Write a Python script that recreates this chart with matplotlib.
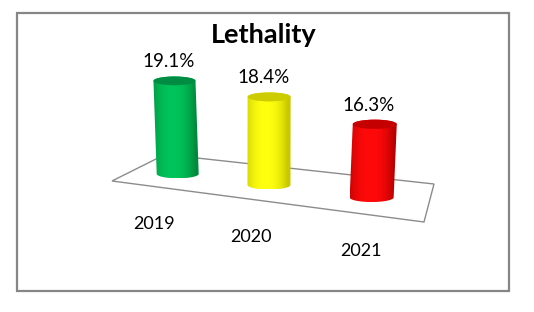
import numpy as np
import matplotlib.pyplot as plt
from matplotlib.patches import Polygon, Ellipse, Rectangle

# data
years = ["2019", "2020", "2021"]
lethality = [19.1, 18.4, 16.3]
value_labels = ["19.1%", "18.4%", "16.3%"]

# colours: (side edge, side centre, top cap)
bar_colors = [
    ("#008a3c", "#00c45a", "#008c42"),
    ("#c8c800", "#ffff10", "#cccc00"),
    ("#b80000", "#ff0a0a", "#c40000"),
]

plt.rcParams['font.family'] = ['Lato', 'DejaVu Sans']

# layout in pixels of the 534x312 picture
W, H = 534, 312
floor = np.array([[112, 181], [424, 222], [434, 184], [165, 154.5]])  # front-left, front-right, back-right, back-left
value_floor = 6.0      # value at the floor
px_per_pct = 7.1       # vertical pixels per percentage point
bar_w = 42
ell_ratio = 0.21
vanish_x, vanish_d = 265, 2500


def homography(dst):
    src = [(0, 0), (1, 0), (1, 1), (0, 1)]
    A, b = [], []
    for (u, v), (x, y) in zip(src, dst):
        A.append([u, v, 1, 0, 0, 0, -u * x, -v * x]); b.append(x)
        A.append([0, 0, 0, u, v, 1, -u * y, -v * y]); b.append(y)
    h = np.linalg.solve(np.array(A, float), np.array(b, float))
    return np.append(h, 1).reshape(3, 3)


Hm = homography(floor)


def proj(u, v):
    p = Hm @ np.array([u, v, 1.0])
    return p[0] / p[2], p[1] / p[2]


def hex_rgb(c):
    c = c.lstrip('#')
    return np.array([int(c[i:i + 2], 16) for i in (0, 2, 4)]) / 255.0


def cylinder(ax, xb, yb, h, w, cols, z):
    a = w / 2
    b = a * ell_ratio
    tilt = (xb - vanish_x) * h / vanish_d
    xt, yt = xb + tilt, yb - h
    th = np.linspace(0, np.pi, 80)
    bottom = np.column_stack([xb + a * np.cos(th), yb + b * np.sin(th)])
    top = np.column_stack([xt - a * np.cos(th), yt - b * np.sin(th)])
    body = Polygon(np.vstack([bottom, top]), closed=True, facecolor='none',
                   edgecolor='none', zorder=z)
    ax.add_patch(body)
    edge, centre, cap = cols
    t = np.linspace(-1, 1, 200)
    f = np.clip(1 - np.abs(t + 0.15) ** 2.2, 0, 1)
    grad = hex_rgb(edge)[None, :] * (1 - f[:, None]) + hex_rgb(centre)[None, :] * f[:, None]
    x0 = min(xb, xt) - a
    x1 = max(xb, xt) + a
    im = ax.imshow(grad[None, :, :], extent=(x0, x1, yb + b, yt - b),
                   aspect='auto', interpolation='bilinear', zorder=z)
    im.set_clip_path(body)
    ax.add_patch(Ellipse((xt, yt), w, 2 * b, facecolor=cap, edgecolor='none', zorder=z + 0.1))
    return xt, yt


fig = plt.figure(figsize=(W / 100, H / 100), dpi=100)
ax = fig.add_axes([0, 0, 1, 1])
ax.axis('off')

# outer border
ax.add_patch(Rectangle((16.5, 12.5), 492, 278, fill=False, edgecolor='#868686', lw=1.6, zorder=1))

# floor
ax.add_patch(Polygon(floor, closed=True, fill=False, edgecolor='#8c8c8c', lw=1.0, zorder=2))

n = len(years)
for i, (yr, val, lab, cols) in enumerate(zip(years, lethality, value_labels, bar_colors)):
    u = (i + 0.5) / n
    xb, yb = proj(u - 0.002, 0.42)
    h = (val - value_floor) * px_per_pct
    xt, yt = cylinder(ax, xb, yb, h, bar_w + i, cols, 3 + i)
    ax.text(xt - 6, yt - 19, lab, ha='center', va='center', fontsize=13.5, color='#000000', zorder=10)
    fx, fy = proj(u, 0.0)
    ax.text(fx - 2, fy + 37, yr, ha='center', va='center', fontsize=13, color='#000000', zorder=10)

ax.text(264, 35, "Lethality", ha='center', va='center', fontsize=19.5, fontweight='bold', zorder=10)

ax.set_xlim(0, W)
ax.set_ylim(H, 0)
fig.savefig("out.png", dpi=100, facecolor='white')
